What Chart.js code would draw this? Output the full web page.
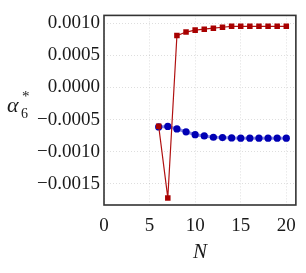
<!DOCTYPE html>
<html>
<head>
<meta charset="utf-8">
<script src="https://cdn.jsdelivr.net/npm/chart.js@4/dist/chart.umd.min.js"></script>
<style>
	html, body { margin: 0; padding: 0; background: #fff; }
	#wrap { width: 306px; height: 273px; }
</style>
</head>
<body>
<div id="wrap"><canvas id="c"></canvas></div>
<script>
// данные
var nRed   = [6, 7, 8, 9, 10, 11, 12, 13, 14, 15, 16, 17, 18, 19, 20];
var alphaRed = [-0.000605, -0.00172, 0.000806, 0.000861, 0.000891, 0.000906, 0.000921, 0.000936, 0.00095, 0.00095, 0.00095, 0.00095, 0.00095, 0.00095, 0.00095];
var nBlue  = [6, 7, 8, 9, 10, 11, 12, 13, 14, 15, 16, 17, 18, 19, 20];
var alphaBlue = [-0.000616, -0.000607, -0.000647, -0.000691, -0.000736, -0.000756, -0.000776, -0.000781, -0.000786, -0.000791, -0.000791, -0.000791, -0.000791, -0.000791, -0.000791];
var xTicks = [0, 5, 10, 15, 20];
var yTicks = [-0.0015, -0.0010, -0.0005, 0.0000, 0.0005, 0.0010];

var tickFont = "'Liberation Serif', serif";

function toPoints(xs, ys) {
	return xs.map(function (x, k) { return { x: x, y: ys[k] }; });
}

// подписи осей (α*_6 и N)
var axisLabels = {
	id: 'axisLabels',
	afterDraw: function (chart) {
		var ctx = chart.ctx;
		var a = chart.chartArea;
		ctx.save();
		ctx.fillStyle = '#1a1a1a';
		ctx.textBaseline = 'alphabetic';
		ctx.textAlign = 'left';
		ctx.font = 'italic 22px ' + tickFont;
		ctx.fillText('α', 7, 112);
		ctx.font = '15px ' + tickFont;
		ctx.fillText('*', 22, 101);
		ctx.font = '14px ' + tickFont;
		ctx.fillText('6', 21, 118);
		ctx.textAlign = 'center';
		ctx.font = 'italic 21px ' + tickFont;
		ctx.fillText('N', (a.left + a.right) / 2, 258);
		ctx.restore();
	}
};

// рамка вокруг области графика
var frame = {
	id: 'frame',
	afterDatasetsDraw: function (chart) {
		var ctx = chart.ctx;
		var a = chart.chartArea;
		ctx.save();
		ctx.strokeStyle = '#333';
		ctx.lineWidth = 1.6;
		ctx.strokeRect(a.left, a.top, a.right - a.left, a.bottom - a.top);
		ctx.restore();
	}
};

var grid = {
	color: 'rgba(0,0,0,0.13)',
	lineWidth: 1,
	drawTicks: false
};

new Chart(document.getElementById('c').getContext('2d'), {
	type: 'scatter',
	data: {
		datasets: [{
			label: 'blue',
			data: toPoints(nBlue, alphaBlue),
			showLine: true,
			borderColor: 'rgba(90,90,220,0.7)',
			borderWidth: 3,
			backgroundColor: '#0000b4',
			pointBorderColor: '#0000b4',
			pointStyle: 'circle',
			pointRadius: 3.6,
			pointBorderWidth: 0,
			order: 2
		}, {
			label: 'red',
			data: toPoints(nRed, alphaRed),
			showLine: true,
			borderColor: '#b01010',
			borderWidth: 1.2,
			backgroundColor: '#a80000',
			pointBorderColor: '#a80000',
			pointStyle: 'rect',
			pointRadius: 3.9,
			pointBorderWidth: 0,
			order: 1
		}]
	},
	options: {
		responsive: true,
		maintainAspectRatio: false,
		animation: false,
		events: [],
		layout: { padding: { top: 6, right: 3, left: 0, bottom: 0 } },
		plugins: { legend: { display: false }, tooltip: { enabled: false } },
		scales: {
			x: {
				type: 'linear',
				min: 0,
				max: 21.05,
				border: { display: false, dash: [1, 2] },
				grid: grid,
				afterBuildTicks: function (axis) { axis.ticks = xTicks.map(function (v) { return { value: v }; }); },
				afterFit: function (axis) { axis.height = 68; },
				ticks: {
					padding: 10,
					maxRotation: 0,
					color: '#1a1a1a',
					font: { family: tickFont, size: 19 },
					callback: function (v) { return String(v); }
				}
			},
			y: {
				type: 'linear',
				min: -0.00183,
				max: 0.00112,
				border: { display: false, dash: [1, 2] },
				grid: grid,
				afterBuildTicks: function (axis) { axis.ticks = yTicks.map(function (v) { return { value: v }; }); },
				afterFit: function (axis) { axis.width = 104; },
				ticks: {
					padding: 4,
					color: '#1a1a1a',
					font: { family: tickFont, size: 19 },
					callback: function (v) { return (v < 0 ? '\u2212' : '') + Math.abs(v).toFixed(4); }
				}
			}
		}
	},
	plugins: [frame, axisLabels]
});
</script>
</body>
</html>
